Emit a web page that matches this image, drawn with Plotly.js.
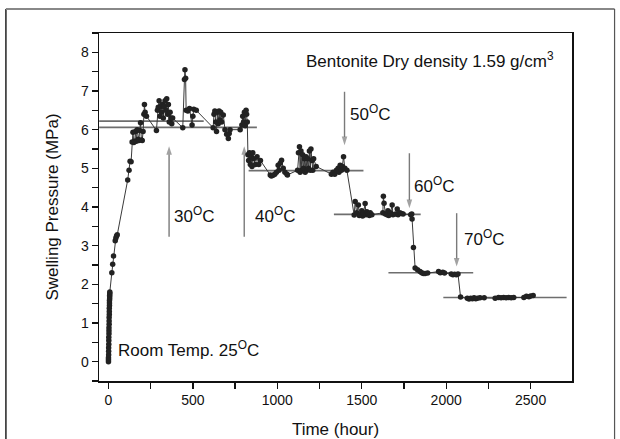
<!DOCTYPE html>
<html>
<head>
<meta charset="utf-8">
<script src="https://cdn.plot.ly/plotly-3.0.1.min.js"></script>
<style>html,body{margin:0;padding:0;background:#fff;}#chart{width:620px;height:439px;}</style>
</head>
<body>
<div id="chart"></div>
<script>
// Measured swelling pressure (MPa) vs time (hour)
const timeHours = [0,0,0,1,1,1,2,2,2,3,3,3,4,4,4,5,5,5,6,6,6,7,7,7,8,8,
  20,25,30,40,44,48,52,114,122,128,134,140,145,150,155,160,165,170,175,180,185,190,195,200,205,210,213,217,225,
  284,290,295,300,305,310,315,320,325,330,335,340,345,350,355,360,365,370,375,380,
  440,450,453,457,460,470,480,495,500,505,520,
  620,625,630,635,640,645,650,655,660,665,670,680,690,700,710,715,720,780,790,795,800,805,810,815,818,822,
  826,830,835,840,845,850,855,860,870,880,890,900,
  958,965,975,985,995,1005,1010,1017,1025,1035,1045,1057,1060,
  1120,1125,1131,1135,1140,1145,1150,1155,1160,1165,1170,1175,1180,1185,1190,1195,1199,1205,1210,1215,1230,
  1320,1330,1340,1350,1360,1365,1372,1380,1385,1392,1400,1412,
  1455,1461,1470,1480,1485,1490,1500,1505,1510,1520,1525,1530,1540,1545,1550,1560,
  1625,1628,1632,1640,1650,1655,1660,1670,1680,1685,1700,1710,1715,1725,1735,1745,1790,1796,1798,
  1806,1816,1830,1845,1855,1865,1875,1890,1955,1965,1980,1990,2030,2040,2050,2060,2070,
  2085,2125,2135,2145,2155,2165,2175,2185,2200,2225,2290,2310,2325,2340,2355,2370,2385,2400,2460,2475,2490,2500,2515];
const pressureMPa = [0,0.05,0.1,0.18,0.27,0.36,0.45,0.55,0.63,0.72,0.8,0.88,0.97,1.05,1.14,1.22,1.3,1.38,1.45,1.52,1.58,1.63,1.68,1.72,1.76,1.8,
  2.3,2.52,2.73,3.13,3.2,3.25,3.28,4.7,4.95,5.18,5.17,5.68,5.93,5.67,5.7,5.95,5.7,6.0,5.75,5.72,5.98,6.18,5.73,5.72,5.95,6.4,6.65,6.45,6.35,
  5.98,6.5,6.58,6.75,6.35,6.6,6.45,6.65,6.3,6.6,6.75,6.5,6.8,6.4,6.65,6.2,6.45,6.3,6.15,6.3,
  6.05,7.3,7.55,7.33,6.5,6.48,6.55,6.12,6.35,6.53,6.5,
  6.05,6.4,6.48,6.2,5.95,6.45,6.15,6.48,6.25,6.45,6.2,6.38,6.0,5.88,5.77,5.9,6.0,6.0,6.12,6.35,6.2,6.45,6.1,6.5,6.4,6.2,
  5.35,5.2,5.4,5.1,5.3,5.05,5.4,5.25,5.1,5.3,5.1,5.2,
  4.83,4.8,4.82,4.85,4.9,5.08,4.95,5.13,5.21,5.0,4.9,4.85,4.83,
  4.95,5.4,5.56,4.9,5.45,4.95,5.35,5.0,5.25,4.9,5.3,4.95,5.25,5.0,5.45,4.95,5.5,5.2,4.95,5.25,5.05,
  4.85,4.9,4.85,4.95,5.0,4.9,5.08,4.95,5.05,5.3,5.0,4.95,
  3.79,4.14,3.85,4.05,3.78,3.8,3.9,3.77,3.85,4.09,3.8,3.88,3.82,3.78,3.85,3.8,
  3.85,4.28,4.1,3.82,3.8,3.9,3.78,3.85,4.05,3.8,3.82,3.95,3.8,3.85,3.83,3.82,3.8,3.82,3.69,
  2.95,2.42,2.38,2.33,2.3,2.28,2.28,2.29,2.33,2.3,2.31,2.29,2.27,2.25,2.26,2.25,2.27,
  1.67,1.64,1.62,1.64,1.63,1.65,1.63,1.64,1.65,1.65,1.64,1.66,1.65,1.66,1.65,1.66,1.65,1.66,1.66,1.69,1.68,1.7,1.71];

// Plateau reference lines
const plateauLevel = [6.22, 6.06, 4.94, 3.81, 2.30, 1.66];
const plateauStart = [-55, -55, 830, 1335, 1658, 1983];
const plateauEnd   = [564, 879, 1510, 1849, 2160, 2713];

// Temperature step arrows and labels
const stepTemps   = ['30', '40', '50', '60', '70'];
const arrowTime   = [359, 804, 1398, 1782, 2062];
const arrowTail   = [3.23, 3.23, 6.98, 5.39, 3.84];
const arrowHead   = [5.57, 5.57, 5.6, 3.97, 2.46];
const labelTime   = [377, 854, 1416, 1800, 2096];
const labelLevel  = [3.79, 3.79, 6.43, 4.57, 3.19];

const refX = [], refY = [];
plateauLevel.forEach((v, i) => {
  refX.push(plateauStart[i], plateauEnd[i], null);
  refY.push(v, v, null);
});

const traces = [
  {x: refX, y: refY, mode: 'lines', line: {color: '#6e6e6e', width: 1.6}, hoverinfo: 'skip', showlegend: false}
];
stepTemps.forEach((t, i) => {
  traces.push({x: [arrowTime[i], arrowTime[i]], y: [arrowTail[i], arrowHead[i]], mode: 'lines+markers',
    line: {color: '#7a7a7a', width: 1.4},
    marker: {symbol: 'arrow', angleref: 'previous', size: [0, 9], color: '#7a7a7a', line: {width: 0}},
    hoverinfo: 'skip', showlegend: false});
});
traces.push({x: timeHours, y: pressureMPa, mode: 'lines+markers',
   line: {color: '#3a3a3a', width: 1},
   marker: {color: '#222', size: 5.5, symbol: 'circle'}, showlegend: false});

const fontFam = '"Liberation Sans", Arial, Helvetica, sans-serif';
const annotations = [];
stepTemps.forEach((t, i) => {
  annotations.push({x: labelTime[i], y: labelLevel[i], xref: 'x', yref: 'y', text: t + '<sup>O</sup>C',
    showarrow: false, xanchor: 'left', yanchor: 'middle', font: {size: 17, color: '#111', family: fontFam}});
});
annotations.push({x: 1155, y: 7.79, xref: 'x', yref: 'y', text: 'Bentonite Dry density 1.59 g/cm<sup>3</sup>',
  showarrow: false, xanchor: 'left', yanchor: 'middle', font: {size: 17, color: '#111', family: fontFam}});
annotations.push({x: 47, y: 0.34, xref: 'x', yref: 'y', text: 'Room Temp. 25<sup>O</sup>C',
  showarrow: false, xanchor: 'left', yanchor: 'middle', font: {size: 17, color: '#111', family: fontFam}});

const layout = {
  width: 620, height: 439,
  margin: {l: 99, r: 48, t: 33, b: 58, pad: 0},
  paper_bgcolor: '#fff', plot_bgcolor: '#fff',
  font: {family: fontFam, color: '#111'},
  showlegend: false,
  xaxis: {
    range: [-56, 2745], tick0: 0, dtick: 500, ticks: 'outside', ticklen: 6, tickwidth: 1.3, tickcolor: '#111',
    minor: {dtick: 250, ticks: 'outside', ticklen: 6, tickwidth: 1.3, tickcolor: '#111'},
    showline: true, linecolor: '#111', linewidth: 1.5, mirror: true, showgrid: false, zeroline: false,
    tickfont: {size: 14, family: fontFam, color: '#111'},
    title: {text: 'Time (hour)', font: {size: 17, family: fontFam, color: '#111'}, standoff: 16},
    automargin: false
  },
  yaxis: {
    range: [-0.5, 8.5], tick0: 0, dtick: 1, ticks: 'outside', ticklen: 6, tickwidth: 1.3, tickcolor: '#111',
    minor: {dtick: 0.5, ticks: 'outside', ticklen: 6, tickwidth: 1.3, tickcolor: '#111'},
    showline: true, linecolor: '#111', linewidth: 1.5, mirror: true, showgrid: false, zeroline: false,
    tickfont: {size: 14, family: fontFam, color: '#111'},
    title: {text: 'Swelling Pressure (MPa)', font: {size: 17, family: fontFam, color: '#111'}, standoff: 18},
    automargin: false
  },
  annotations: annotations,
  shapes: [
    {type: 'line', xref: 'paper', yref: 'paper', x0: -0.1968, x1: -0.1968, y0: 1.069, y1: -0.2, line: {color: '#222', width: 1.5}},
    {type: 'line', xref: 'paper', yref: 'paper', x0: -0.1968, x1: 1.09, y0: 1.069, y1: 1.069, line: {color: '#888', width: 2}},
    {type: 'line', xref: 'paper', yref: 'paper', x0: 1.09, x1: 1.09, y0: 1.069, y1: -0.2, line: {color: '#555', width: 1.2}}
  ]
};

Plotly.newPlot('chart', traces, layout, {staticPlot: true, displayModeBar: false});
</script>
</body>
</html>
